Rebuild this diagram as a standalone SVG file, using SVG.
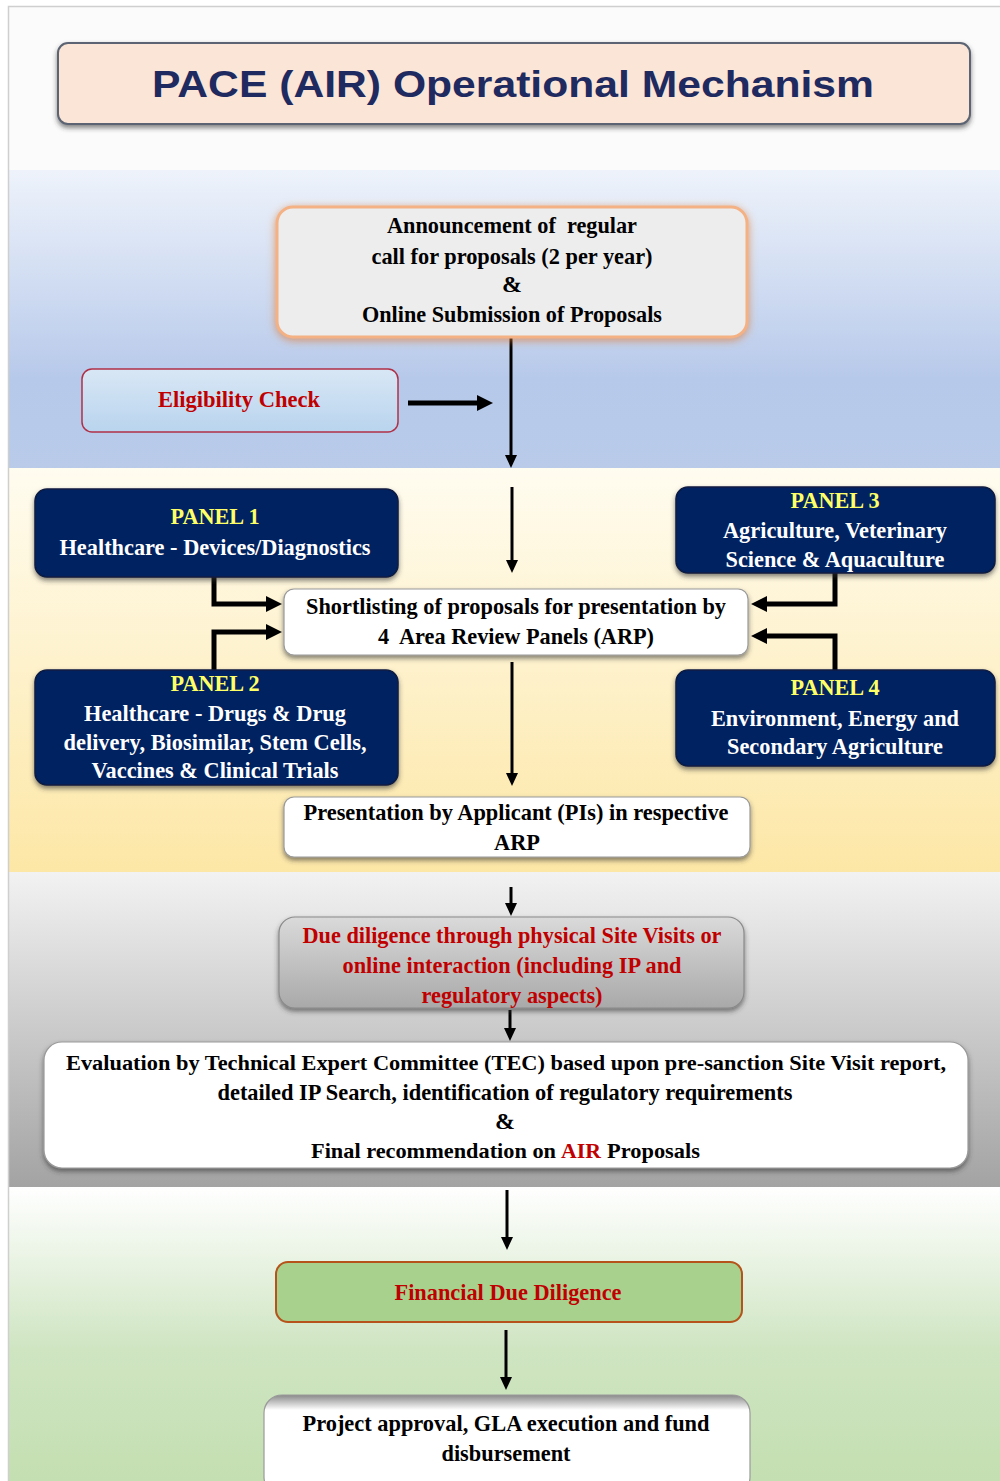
<svg xmlns="http://www.w3.org/2000/svg" width="1000" height="1481" viewBox="0 0 1000 1481">
<defs>
<style>
.t{font-family:"Liberation Serif","Times New Roman",serif;font-weight:bold;font-size:24px;text-anchor:middle;fill:#000}
.s{text-anchor:start}
.w{fill:#fff}
.y{fill:#ffff66}
.r{fill:#c00000}
.ln{fill:none;stroke:#000}
.thin{stroke-width:3}
.thick{stroke-width:5}
.panel{fill:#002060;stroke:#0a1a40;stroke-width:1.5}
.wbox{fill:#fff;stroke:#9a9a9a;stroke-width:1.2}
</style>
<linearGradient id="gBlue" x1="0" y1="0" x2="0" y2="1"><stop offset="0" stop-color="#eef3fb"/><stop offset="0.7" stop-color="#b7c9ea"/><stop offset="1" stop-color="#b9cbe9"/></linearGradient>
<linearGradient id="gYel" x1="0" y1="0" x2="0" y2="1"><stop offset="0" stop-color="#fffcf0"/><stop offset="1" stop-color="#fde7a6"/></linearGradient>
<linearGradient id="gGray" x1="0" y1="0" x2="0" y2="1"><stop offset="0" stop-color="#f2f2f2"/><stop offset="1" stop-color="#a3a3a3"/></linearGradient>
<linearGradient id="gGreen" x1="0" y1="0" x2="0" y2="1"><stop offset="0" stop-color="#ffffff"/><stop offset="0.55" stop-color="#cfe5c2"/><stop offset="1" stop-color="#c4dfb1"/></linearGradient>
<linearGradient id="gElig" x1="0" y1="0" x2="0" y2="1"><stop offset="0" stop-color="#d8e7f5"/><stop offset="1" stop-color="#b9d4ee"/></linearGradient>
<linearGradient id="gDue" x1="0" y1="0" x2="0" y2="1"><stop offset="0" stop-color="#dadada"/><stop offset="1" stop-color="#a9a9a9"/></linearGradient>
<linearGradient id="gProj" x1="0" y1="0" x2="0" y2="1"><stop offset="0" stop-color="#8a8a8a"/><stop offset="0.15" stop-color="#ffffff"/><stop offset="1" stop-color="#ffffff"/></linearGradient>
<filter id="sh" x="-10%" y="-20%" width="120%" height="150%"><feDropShadow dx="0" dy="3" stdDeviation="2.5" flood-color="#333" flood-opacity="0.6"/></filter>
<filter id="glow" x="-10%" y="-20%" width="120%" height="150%"><feDropShadow dx="0" dy="2" stdDeviation="4" flood-color="#e07a30" flood-opacity="0.7"/></filter>
<marker id="ah" markerUnits="userSpaceOnUse" markerWidth="13" markerHeight="12" refX="2" refY="6" orient="auto"><path d="M0,0 L13,6 L0,12 z" fill="#000"/></marker>
<marker id="ahT" markerUnits="userSpaceOnUse" markerWidth="16" markerHeight="16" refX="2" refY="8" orient="auto"><path d="M0,0 L16,8 L0,16 z" fill="#000"/></marker>
</defs>

<g id="background">
<rect x="0" y="0" width="1000" height="1481" fill="#ffffff"/>
<rect x="9" y="7" width="991" height="163" fill="#fbfbfb"/>
<rect x="9" y="170" width="991" height="298" fill="url(#gBlue)"/>
<rect x="9" y="468" width="991" height="404" fill="url(#gYel)"/>
<rect x="9" y="872" width="991" height="315" fill="url(#gGray)"/>
<rect x="9" y="1187" width="991" height="294" fill="url(#gGreen)"/>
<path d="M8.5,1481 V6.5 H1000" fill="none" stroke="#cfcfcf" stroke-width="1.5"/>
</g>

<g id="title">
<rect x="58" y="43" width="912" height="81" rx="10" fill="#fbe5d6" stroke="#5b6472" stroke-width="2" filter="url(#sh)"/>
<text x="513" y="97" font-family="'Liberation Sans',Arial,sans-serif" font-weight="bold" font-size="37" fill="#1f2a60" text-anchor="middle" textLength="722" lengthAdjust="spacingAndGlyphs">PACE (AIR) Operational Mechanism</text>
</g>

<g id="connectors">
<path class="ln thin" d="M511,338 V457" marker-end="url(#ah)"/>
<path class="ln thick" d="M408,403 H479" marker-end="url(#ahT)"/>
<path class="ln thin" d="M512,487 V562" marker-end="url(#ah)"/>
<path class="ln thick" d="M214,577 V604 H268" marker-end="url(#ahT)"/>
<path class="ln thick" d="M214,670 V632 H268" marker-end="url(#ahT)"/>
<path class="ln thick" d="M835,573 V604 H765" marker-end="url(#ahT)"/>
<path class="ln thick" d="M835,670 V636 H765" marker-end="url(#ahT)"/>
<path class="ln thin" d="M512,662 V775" marker-end="url(#ah)"/>
<path class="ln thin" d="M511,887 V905" marker-end="url(#ah)"/>
<path class="ln thin" d="M510,1010 V1030" marker-end="url(#ah)"/>
<path class="ln thin" d="M507,1190 V1239" marker-end="url(#ah)"/>
<path class="ln thin" d="M506,1330 V1379" marker-end="url(#ah)"/>
</g>

<g id="announcement">
<rect x="277" y="207" width="470" height="130" rx="16" fill="#ededed" stroke="#f4b183" stroke-width="3" filter="url(#glow)"/>
<text class="t" x="512" y="233" xml:space="preserve" textLength="250" lengthAdjust="spacingAndGlyphs">Announcement of  regular</text>
<text class="t" x="512" y="264" textLength="281" lengthAdjust="spacingAndGlyphs">call for proposals (2 per year)</text>
<text class="t" x="512" y="292">&amp;</text>
<text class="t" x="512" y="322" textLength="300" lengthAdjust="spacingAndGlyphs">Online Submission of Proposals</text>
</g>

<g id="eligibility">
<rect x="82" y="369" width="316" height="63" rx="10" fill="url(#gElig)" stroke="#b03048" stroke-width="1.5"/>
<text class="t r" x="239" y="407" textLength="162" lengthAdjust="spacingAndGlyphs">Eligibility Check</text>
</g>

<g id="panel1">
<rect class="panel" x="35" y="489" width="363" height="88" rx="12" filter="url(#sh)"/>
<text class="t y" x="215" y="524" textLength="89" lengthAdjust="spacingAndGlyphs">PANEL 1</text>
<text class="t w" x="215" y="555" textLength="311" lengthAdjust="spacingAndGlyphs">Healthcare - Devices/Diagnostics</text>
</g>

<g id="panel3">
<rect class="panel" x="676" y="487" width="319" height="86" rx="12" filter="url(#sh)"/>
<text class="t y" x="835" y="508" textLength="89" lengthAdjust="spacingAndGlyphs">PANEL 3</text>
<text class="t w" x="835" y="538" textLength="224" lengthAdjust="spacingAndGlyphs">Agriculture, Veterinary</text>
<text class="t w" x="835" y="567" textLength="219" lengthAdjust="spacingAndGlyphs">Science &amp; Aquaculture</text>
</g>

<g id="shortlisting">
<rect class="wbox" x="284" y="589" width="464" height="66" rx="10" filter="url(#sh)"/>
<text class="t" x="516" y="614" textLength="420" lengthAdjust="spacingAndGlyphs">Shortlisting of proposals for presentation by</text>
<text class="t" x="516" y="644" xml:space="preserve" textLength="276" lengthAdjust="spacingAndGlyphs">4  Area Review Panels (ARP)</text>
</g>

<g id="panel2">
<rect class="panel" x="35" y="670" width="363" height="115" rx="12" filter="url(#sh)"/>
<text class="t y" x="215" y="691" textLength="89" lengthAdjust="spacingAndGlyphs">PANEL 2</text>
<text class="t w" x="215" y="721" textLength="262" lengthAdjust="spacingAndGlyphs">Healthcare - Drugs &amp; Drug</text>
<text class="t w" x="215" y="750" textLength="303" lengthAdjust="spacingAndGlyphs">delivery, Biosimilar, Stem Cells,</text>
<text class="t w" x="215" y="778" textLength="247" lengthAdjust="spacingAndGlyphs">Vaccines &amp; Clinical Trials</text>
</g>

<g id="panel4">
<rect class="panel" x="676" y="670" width="319" height="96" rx="12" filter="url(#sh)"/>
<text class="t y" x="835" y="695" textLength="89" lengthAdjust="spacingAndGlyphs">PANEL 4</text>
<text class="t w" x="835" y="726" textLength="248" lengthAdjust="spacingAndGlyphs">Environment, Energy and</text>
<text class="t w" x="835" y="754" textLength="216" lengthAdjust="spacingAndGlyphs">Secondary Agriculture</text>
</g>

<g id="presentation">
<rect class="wbox" x="284" y="797" width="466" height="60" rx="10" filter="url(#sh)"/>
<text class="t" x="516" y="820" textLength="425" lengthAdjust="spacingAndGlyphs">Presentation by Applicant (PIs) in respective</text>
<text class="t" x="517" y="850" textLength="46" lengthAdjust="spacingAndGlyphs">ARP</text>
</g>

<g id="due-diligence">
<rect x="279" y="917" width="465" height="91" rx="16" fill="url(#gDue)" stroke="#8a8a8a" stroke-width="1.2" filter="url(#sh)"/>
<text class="t r" x="512" y="943" textLength="419" lengthAdjust="spacingAndGlyphs">Due diligence through physical Site Visits or</text>
<text class="t r" x="512" y="973" textLength="339" lengthAdjust="spacingAndGlyphs">online interaction (including IP and</text>
<text class="t r" x="512" y="1003" textLength="181" lengthAdjust="spacingAndGlyphs">regulatory aspects)</text>
</g>

<g id="evaluation">
<rect class="wbox" x="44" y="1042" width="924" height="126" rx="18" filter="url(#sh)"/>
<text class="t" x="506" y="1070" style="font-size:20px" textLength="880" lengthAdjust="spacingAndGlyphs">Evaluation by Technical Expert Committee (TEC) based upon pre-sanction Site Visit report,</text>
<text class="t" x="505" y="1100" textLength="575" lengthAdjust="spacingAndGlyphs">detailed IP Search, identification of regulatory requirements</text>
<text class="t" x="505" y="1129">&amp;</text>
<text class="t s" x="311" y="1158" style="font-size:22px" textLength="245" lengthAdjust="spacingAndGlyphs">Final recommendation on</text>
<text class="t s r" x="561" y="1158" style="font-size:22px" textLength="40" lengthAdjust="spacingAndGlyphs">AIR</text>
<text class="t s" x="607" y="1158" style="font-size:22px" textLength="93" lengthAdjust="spacingAndGlyphs">Proposals</text>
</g>

<g id="financial">
<rect x="276" y="1262" width="466" height="60" rx="12" fill="#a9d18e" stroke="#b5531a" stroke-width="2"/>
<text class="t r" x="508" y="1300" textLength="227" lengthAdjust="spacingAndGlyphs">Financial Due Diligence</text>
</g>

<g id="project">
<rect x="264" y="1395" width="486" height="100" rx="18" fill="url(#gProj)" stroke="#9a9a9a" stroke-width="1.2"/>
<text class="t" x="506" y="1431" textLength="407" lengthAdjust="spacingAndGlyphs">Project approval, GLA execution and fund</text>
<text class="t" x="506" y="1461" textLength="129" lengthAdjust="spacingAndGlyphs">disbursement</text>
</g>
</svg>
